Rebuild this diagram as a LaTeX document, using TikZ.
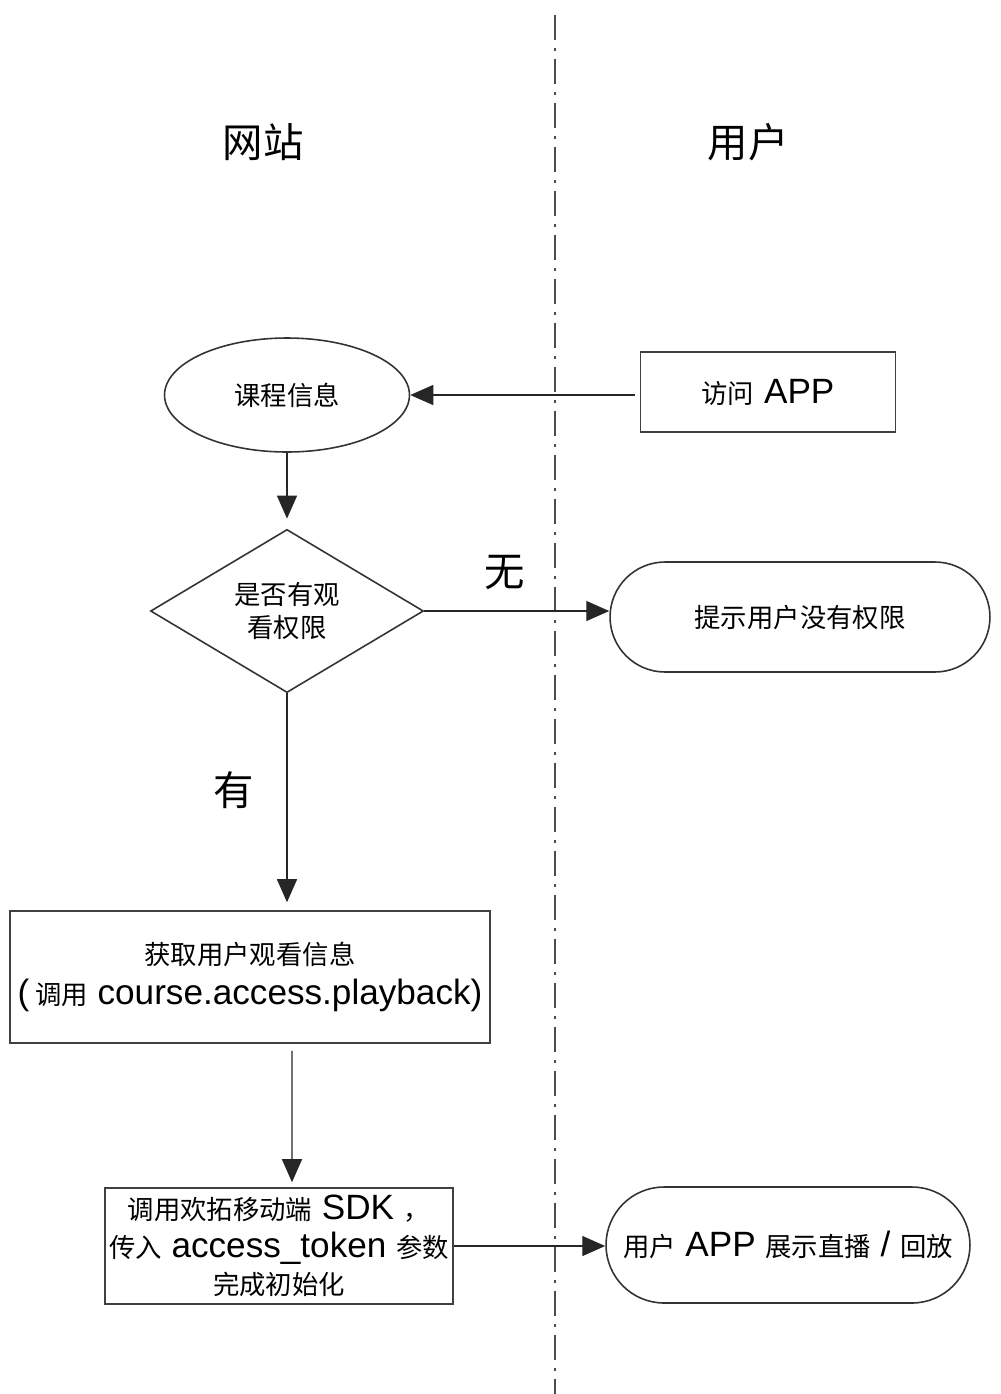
\documentclass[tikz,border=0pt]{standalone}
\usepackage{fontspec}
\setmainfont{Liberation Sans}
\newfontfamily\cjk{Noto Sans CJK SC}
\usepackage{tikz}
\usetikzlibrary{arrows.meta,shapes.geometric,shapes.misc,calc}
\newcommand\zh[1]{{\cjk\fontsize{15}{18}\selectfont #1}}
\tikzset{
    %Define standard arrow tip
    >={Triangle[length=0.46cm,width=0.4cm]},
    %Define styles for nodes
    proc/.style={
           rectangle,
           draw=black!75, line width=0.9pt,
           inner sep=0pt,
           align=center,
           font=\fontsize{20}{22.7}\selectfont},
    oval/.style={
           ellipse,
           draw=black!80, line width=0.9pt,
           inner sep=0pt,
           align=center},
    pill/.style={
           rounded rectangle,
           draw=black!80, line width=0.9pt,
           inner sep=0pt,
           align=center,
           font=\fontsize{20}{22}\selectfont},
    choice/.style={
           diamond,
           draw=black!80, line width=0.9pt,
           inner sep=0pt,
           align=center,
           font=\fontsize{15}{19}\selectfont},
    lane/.style={
           font=\cjk\fontsize{23}{26}\selectfont},
    % Define arrow style
    flow/.style={
           ->,
           draw=black!85,
           line width=0.8pt},
    divider/.style={
           draw=black!70,
           line width=0.9pt,
           dash pattern=on 0.5cm off 0.16cm on 0.06cm off 0.16cm}
}
\begin{document}
\begin{tikzpicture}[x=0.02cm, y=-0.02cm]
    \useasboundingbox (0,0) rectangle (1001,1394);
 %lanes
    \coordinate (top) at (555,15);
    \coordinate (bot) at (555,1394);
    \draw[divider] (top) -- (bot);
    \node[lane] (site) at (263,142) {网站};
    \node[lane] (user) at (748,142) {用户};
 %nodes
    \node[oval, minimum width=4.9cm, minimum height=2.28cm] (course) at (287,395) {\zh{课程信息}};
    \node[proc, minimum width=5.1cm, minimum height=1.6cm] (visit) at (768,392) {\zh{访问} APP};
    \node[choice, minimum width=5.46cm, minimum height=3.06cm] (check) at (287,611) {\zh{是否有观}\\\zh{看权限}};
    \node[pill, minimum width=7.6cm, minimum height=2.2cm] (deny) at (800,617) {\zh{提示用户没有权限}};
    \node[proc, minimum width=9.6cm, minimum height=2.64cm] (fetch) at (250,977) {\zh{获取用户观看信息}\\(\,\zh{调用} course.access.playback)};
    \node[proc, minimum width=6.96cm, minimum height=2.32cm, font=\fontsize{20}{21.5}\selectfont] (init) at (279,1246) {\zh{调用欢拓移动端} SDK \zh{，}\\\zh{传入} access\_token \zh{参数}\\\zh{完成初始化}};
    \node[pill, minimum width=7.28cm, minimum height=2.32cm] (play) at (788,1245) {\zh{用户} APP \zh{展示直播} / \zh{回放}};
    \node[lane] (nolabel) at (505,572) {无};
    \node[lane] (yeslabel) at (234,790) {有};
 %edges
    \draw[flow] ([xshift=-0.1cm]visit.west |- course.east) -- (course.east);
    \draw[flow, shorten >=0.2cm] (course.south) -- (check.north);
    \draw[flow] (check.east) -- (check.east -| deny.west);
    \draw[flow, shorten >=0.16cm] (check.south) -- (check.south |- fetch.north);
    \draw[flow, shorten <=0.14cm, shorten >=0.1cm] ([xshift=0.84cm]fetch.south) -- ([xshift=0.26cm]init.north);
    \draw[flow] (init.east) -- (init.east -| play.west);
\end{tikzpicture}
\end{document}
